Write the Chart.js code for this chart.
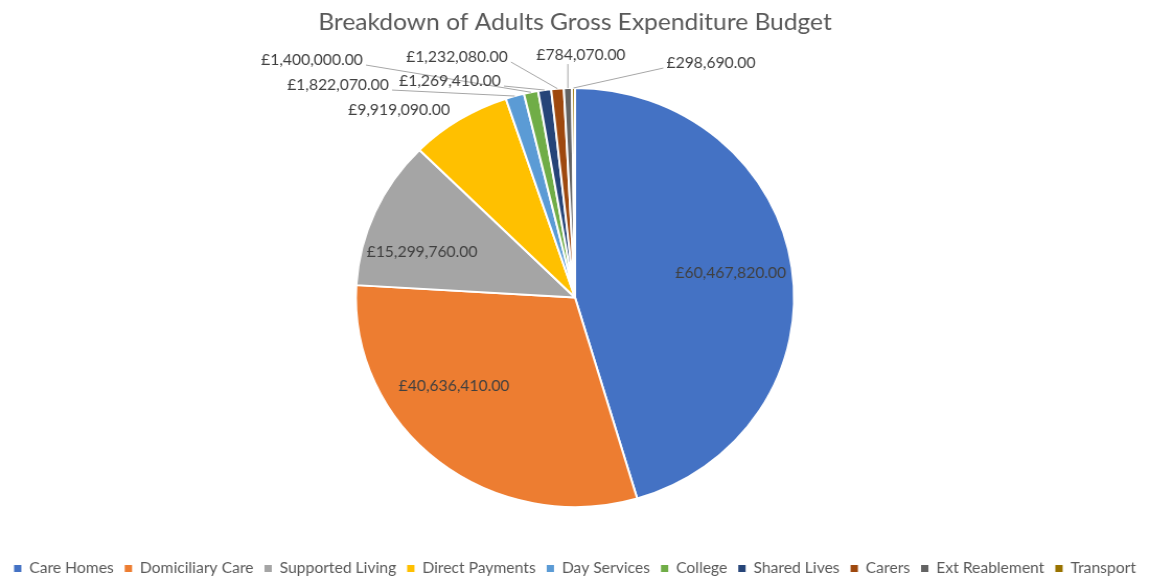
<!DOCTYPE html>
<html>
<head>
<meta charset="utf-8">
<title>Breakdown of Adults Gross Expenditure Budget</title>
<script src="https://cdn.jsdelivr.net/npm/chart.js@4.4.1/dist/chart.umd.min.js"></script>
<style>
  html, body { margin: 0; padding: 0; background: #fff; overflow: hidden; }
  /* the chart is drawn a little narrower and stretched sideways to the page width */
  #wrap { width: 1100px; height: 586px; transform: scaleX(1.04545); transform-origin: 0 0; }
</style>
</head>
<body>
<div id="wrap"><canvas id="budgetChart" width="1100" height="586"></canvas></div>
<script>
const services = [
  "Care Homes", "Domiciliary Care", "Supported Living", "Direct Payments", "Day Services",
  "College", "Shared Lives", "Carers", "Ext Reablement", "Transport"
];
const budget = [60467820, 40636410, 15299760, 9919090, 1822070, 1400000, 1269410, 1232080, 784070, 298690];
const sliceColours = [
  "#4472C4", "#ED7D31", "#A5A5A5", "#FFC000", "#5B9BD5",
  "#70AD47", "#264478", "#9E480E", "#636363", "#997300"
];

// where each value label sits, offset from the pie centre (px)
const labelSpots = [
  [149, -24.5], [-115.7, 88.5], [-146.3, -45.5], [-168.3, -187.5], [-226.7, -212.5],
  [-251.6, -237.5], [-119.6, -216.5], [-112.9, -240.5], [5.7, -242.5], [130.1, -234.5]
];
// small slices get a leader line back to the slice
const hasLeader = [false, false, false, false, true, true, true, true, true, true];

function money(v) {
  return "£" + v.toLocaleString("en-GB", { minimumFractionDigits: 2, maximumFractionDigits: 2 });
}

const valueLabels = {
  id: "valueLabels",
  afterDatasetsDraw(chart) {
    const ctx = chart.ctx;
    const arcs = chart.getDatasetMeta(0).data;
    ctx.save();
    ctx.font = "15px Lato";
    ctx.textAlign = "center";
    ctx.textBaseline = "middle";
    arcs.forEach((arc, i) => {
      const p = arc.getProps(["x", "y", "startAngle", "endAngle", "outerRadius"], true);
      const text = money(budget[i]);
      const lx = p.x + labelSpots[i][0];
      const ly = p.y + labelSpots[i][1];
      if (hasLeader[i]) {
        const mid = (p.startAngle + p.endAngle) / 2;
        const tx = p.x + Math.cos(mid) * p.outerRadius;
        const ty = p.y + Math.sin(mid) * p.outerRadius;
        const half = ctx.measureText(text).width / 2;
        let sx, sy;
        if (tx > lx + half) { sx = lx + half + 3; sy = ly + 5; }
        else if (tx < lx - half) { sx = lx - half - 3; sy = ly + 5; }
        else { sx = tx; sy = ly + 9; }
        ctx.strokeStyle = "#a6a6a6";
        ctx.lineWidth = 1;
        ctx.beginPath();
        ctx.moveTo(sx, sy);
        ctx.lineTo(tx, ty);
        ctx.stroke();
      }
      ctx.fillStyle = "#404040";
      ctx.fillText(text, lx, ly);
    });
    ctx.restore();
  }
};

function drawChart() {
  const ctx = document.getElementById("budgetChart").getContext("2d");
  new Chart(ctx, {
    type: "pie",
    data: {
      labels: services,
      datasets: [{
        data: budget,
        backgroundColor: sliceColours,
        borderColor: "#ffffff",
        borderWidth: 2
      }]
    },
    options: {
      responsive: false,
      animation: false,
      devicePixelRatio: 1,
      layout: { padding: 0 },
      plugins: {
        title: {
          display: true,
          text: "Breakdown of Adults Gross Expenditure Budget",
          color: "#595959",
          font: { family: "Lato", size: 23.5, weight: "normal" },
          padding: { top: 8, bottom: 50.8 }
        },
        legend: {
          position: "bottom",
          title: { display: true, text: "", padding: { top: 28, bottom: 0 } },
          labels: {
            boxWidth: 7,
            boxHeight: 7,
            padding: 10.5,
            color: "#595959",
            font: { family: "Lato", size: 15 },
            // plain squares, without the white slice outline
            generateLabels(chart) {
              return Chart.overrides.pie.plugins.legend.labels.generateLabels(chart)
                .map(item => ({ ...item, lineWidth: 0 }));
            }
          }
        },
        tooltip: { enabled: false }
      }
    },
    plugins: [valueLabels]
  });
}

document.fonts.load("15px Lato").catch(() => {}).then(drawChart);
</script>
</body>
</html>
